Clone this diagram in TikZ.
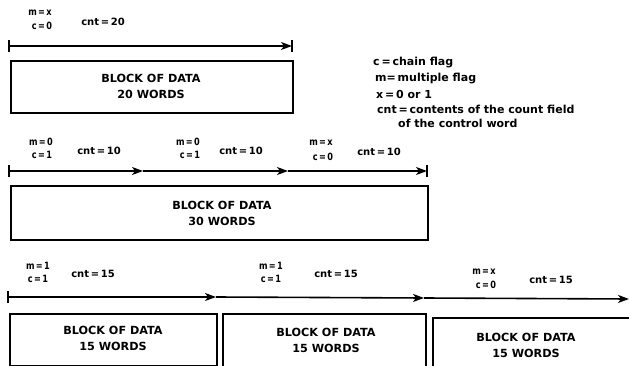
\documentclass[tikz,border=0pt]{standalone}
\usepackage{fontspec}
\setmainfont{DejaVu Sans}
\usetikzlibrary{arrows.meta}
\newcommand{\flg}[1]{\scalebox{0.82}[1]{#1}}
\begin{document}
\begin{tikzpicture}[x=1pt,y=-1pt,
  lbl/.style={font=\bfseries\fontsize{10}{11}\selectfont, inner sep=0pt},
  cntl/.style={font=\bfseries\fontsize{10}{11}\selectfont, inner sep=0pt},
  blk/.style={font=\bfseries\fontsize{11.2}{16}\selectfont, align=center, inner sep=0pt},
  leg/.style={font=\bfseries\fontsize{11}{12}\selectfont, anchor=west, inner sep=0pt},
  frame/.style={draw, line width=1.6pt, anchor=north west, inner sep=0pt},
  flow/.style={line width=1.6pt, -{Stealth[length=11pt,width=8pt,inset=3pt]}},
  tickmark/.style={line width=1.6pt}]
\useasboundingbox (0,0) rectangle (629,366);
\clip (0,0) rectangle (629,366);

% ---------- row 1 ----------
\node[lbl] (r1m) at (40,13) {\flg{m\,=\,x}};
\node[lbl] (r1c) at (42,26) {\flg{c\,=\,0}};
\node[cntl] (r1n) at (103,22) {cnt\,=\,20};
\coordinate (a1s) at (9,46);
\coordinate (a1e) at (292,46);
\draw[flow] (a1s) -- (a1e);
\draw[tickmark] ([yshift=-6pt]a1s) -- ([yshift=6pt]a1s);
\draw[tickmark] ([yshift=-6pt]a1e) -- ([yshift=6pt]a1e);
\node[frame, minimum width=282pt, minimum height=52pt] (b1) at (10,60) {};
\node[blk] (t1) at (151,86) {BLOCK OF DATA\\20 WORDS};

% ---------- legend ----------
\node[leg] (g1) at (373,63) {c\,=\,chain flag};
\node[leg] (g2) at (375,79) {m=\,multiple flag};
\node[leg] (g3) at (376,94) {x\,=\,0 or 1};
\node[leg] (g4) at (377,109) {cnt\,=\,contents of the count field};
\node[leg] (g5) at (398,123) {of the control word};

% ---------- row 2 ----------
\node[lbl] (r2m1) at (41,142) {\flg{m\,=\,0}};
\node[lbl] (r2c1) at (42,155) {\flg{c\,=\,1}};
\node[cntl] (r2n1) at (99,151) {cnt\,=\,10};
\node[lbl] (r2m2) at (188,142) {\flg{m\,=\,0}};
\node[lbl] (r2c2) at (190,155) {\flg{c\,=\,1}};
\node[cntl] (r2n2) at (241,151) {cnt\,=\,10};
\node[lbl] (r2m3) at (321,143) {\flg{m\,=\,x}};
\node[lbl] (r2c3) at (323,157) {\flg{c\,=\,0}};
\node[cntl] (r2n3) at (379,152) {cnt\,=\,10};
\coordinate (a2s) at (9,171);
\coordinate (a2m1) at (143,171);
\coordinate (a2m2) at (288,171);
\coordinate (a2e) at (427,171);
\draw[flow] (a2s) -- (a2m1);
\draw[flow] (a2m1) -- (a2m2);
\draw[flow] (a2m2) -- (a2e);
\draw[tickmark] ([yshift=-6pt]a2s) -- ([yshift=6pt]a2s);
\draw[tickmark] ([yshift=-6pt]a2e) -- ([yshift=6pt]a2e);
\node[frame, minimum width=417pt, minimum height=54pt] (b2) at (10,185) {};
\node[blk] (t2) at (222,213) {BLOCK OF DATA\\30 WORDS};

% ---------- row 3 ----------
\node[lbl] (r3m1) at (38,266) {\flg{m\,=\,1}};
\node[lbl] (r3c1) at (38,279) {\flg{c\,=\,1}};
\node[cntl] (r3n1) at (93,274) {cnt\,=\,15};
\node[lbl] (r3m2) at (271,266) {\flg{m\,=\,1}};
\node[lbl] (r3c2) at (271,279) {\flg{c\,=\,1}};
\node[cntl] (r3n2) at (336,274) {cnt\,=\,15};
\node[lbl] (r3m3) at (484,272) {\flg{m\,=\,x}};
\node[lbl] (r3c3) at (486,285) {\flg{c\,=\,0}};
\node[cntl] (r3n3) at (551,280) {cnt\,=\,15};
\coordinate (a3s) at (8,297);
\coordinate (a3m1) at (216,297);
\coordinate (a3m2) at (424,298);
\coordinate (a3e) at (629,299);
\draw[flow] (a3s) -- (a3m1);
\draw[flow] (a3m1) -- (a3m2);
\draw[flow] (a3m2) -- (a3e);
\draw[tickmark] ([yshift=-6pt]a3s) -- ([yshift=6pt]a3s);
\node[frame, minimum width=207pt, minimum height=52pt] (b3a) at (9,313) {};
\node[frame, minimum width=203pt, minimum height=60pt] (b3b) at (222,313) {};
\node[frame, minimum width=210pt, minimum height=60pt] (b3c) at (432,317) {};
\node[blk] (t3a) at (113,338) {BLOCK OF DATA\\15 WORDS};
\node[blk] (t3b) at (326,340) {BLOCK OF DATA\\15 WORDS};
\node[blk] (t3c) at (526,345) {BLOCK OF DATA\\15 WORDS};
\end{tikzpicture}
\end{document}
